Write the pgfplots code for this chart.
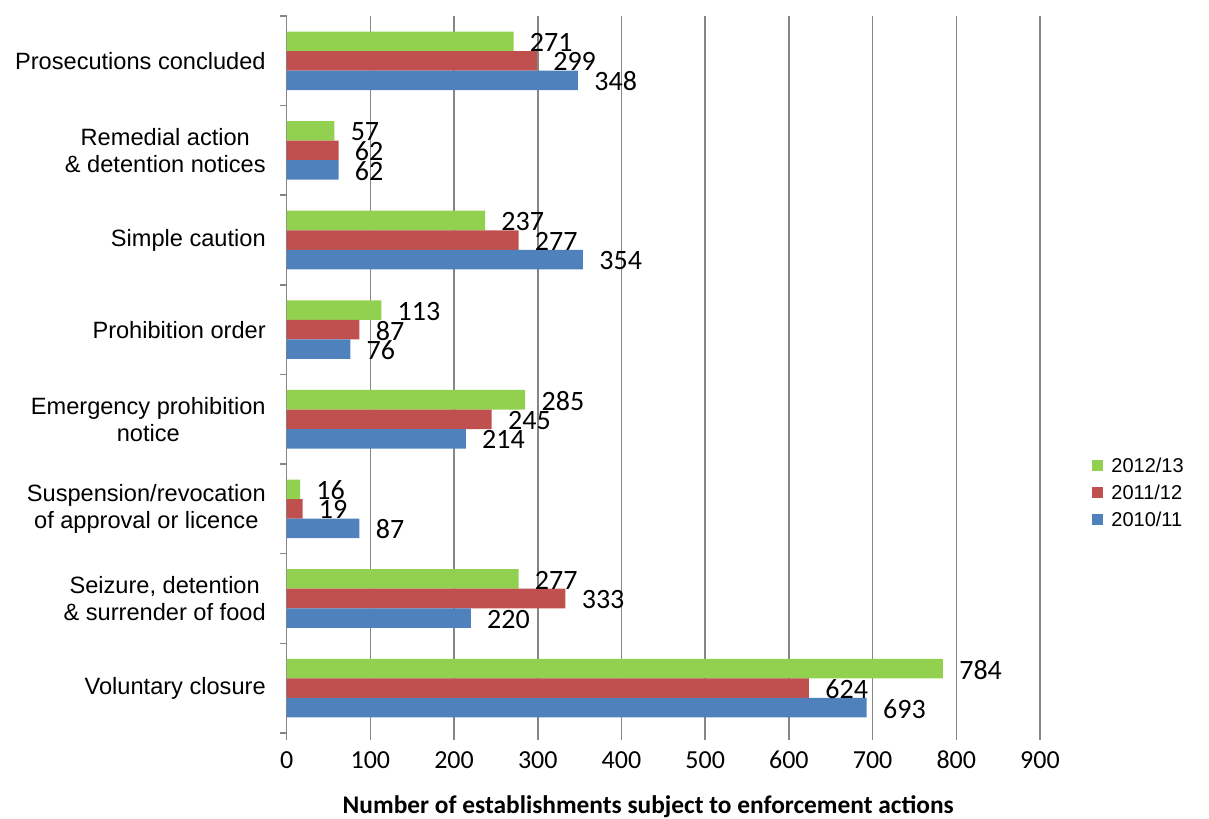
\documentclass[border=0pt]{standalone}
\usepackage{fontspec}
\setmainfont{Carlito}
\newfontfamily\arial{Liberation Sans}
\usepackage{pgfplots}
\pgfplotsset{compat=1.18}
\definecolor{gser}{RGB}{146,208,80}
\definecolor{rser}{RGB}{192,80,77}
\definecolor{bser}{RGB}{79,129,189}
\definecolor{gridgray}{RGB}{134,134,134}

\begin{document}
\begin{tikzpicture}
\begin{axis}[
  name=ax,
  scale only axis,
  width=376.7pt, height=358.5pt,
  xbar, bar width=0.218,
  xmin=0, xmax=900, xtick={0,100,...,900},
  ymin=-0.5, ymax=7.5,
  ytick={0,...,7},
  yticklabels={Voluntary closure,
    {Seizure, detention\\\& surrender of food},
    Suspension/revocation\\of approval or licence,
    Emergency prohibition\\notice,
    Prohibition order,
    Simple caution,
    Remedial action\\\& detention notices,
    Prosecutions concluded},
  minor ytick={-0.5,0.5,...,7.5},
  axis y line*=left, axis x line*=bottom,
  x axis line style={draw=none},
  y axis line style={draw=gridgray, line width=0.75pt},
  tick align=outside,
  major tick length=3.5pt, minor tick length=3.5pt,
  major y tick style={draw=none},
  minor y tick style={draw=gridgray, line width=0.75pt},
  major x tick style={draw=gridgray, line width=0.75pt},
  xmajorgrids, major x grid style={draw=gridgray, line width=0.75pt},
  /pgf/number format/assume math mode=true,
  xticklabel style={font=\fontsize{13}{15}\selectfont, inner sep=0pt, anchor=north,
    text height=8.3pt, text depth=0pt, yshift=-6pt},
  yticklabel style={font=\arial\fontsize{11.8}{13.6}\selectfont, align=center, inner sep=0pt, anchor=east, xshift=-6.8pt},
  nodes near coords, point meta=x,
  nodes near coords style={font=\fontsize{14}{16}\selectfont, anchor=west, inner sep=0pt, xshift=8pt, yshift=-0.5pt},
  clip=false,
  xlabel={Number of establishments subject to enforcement actions},
  xlabel style={font=\bfseries\fontsize{12.7}{15}\selectfont, at={(axis description cs:0.48,0)}, anchor=north, inner sep=0pt, yshift=-31.3pt},
  legend style={at={(1,0.336)}, anchor=west, xshift=23pt, draw=none, fill=none,
    font=\arial\fontsize{10}{12}\selectfont, row sep=6.3pt,
    nodes={inner sep=0pt, text height=7.2pt, text depth=0pt},
    /tikz/every odd column/.append style={column sep=4pt}},
  legend cell align=left,
  legend image code/.code={\fill[#1] (0pt,-2.75pt) rectangle (5.5pt,2.75pt);},
]
% 2012/13
\addplot[fill=gser, draw=none, bar shift=0.218] coordinates {(784,0) (277,1) (16,2) (285,3) (113,4) (237,5) (57,6) (271,7)};
% 2011/12
\addplot[fill=rser, draw=none, bar shift=0] coordinates {(624,0) (333,1) (19,2) (245,3) (87,4) (277,5) (62,6) (299,7)};
% 2010/11
\addplot[fill=bser, draw=none, bar shift=-0.218] coordinates {(693,0) (220,1) (87,2) (214,3) (76,4) (354,5) (62,6) (348,7)};
\legend{2012/13, 2011/12, 2010/11}
\end{axis}
\pgfresetboundingbox
\path[use as bounding box] ([shift={(-143.35pt,-43pt)}]ax.south west) rectangle ([shift={(84.5pt,8pt)}]ax.north east);
\end{tikzpicture}
\end{document}
